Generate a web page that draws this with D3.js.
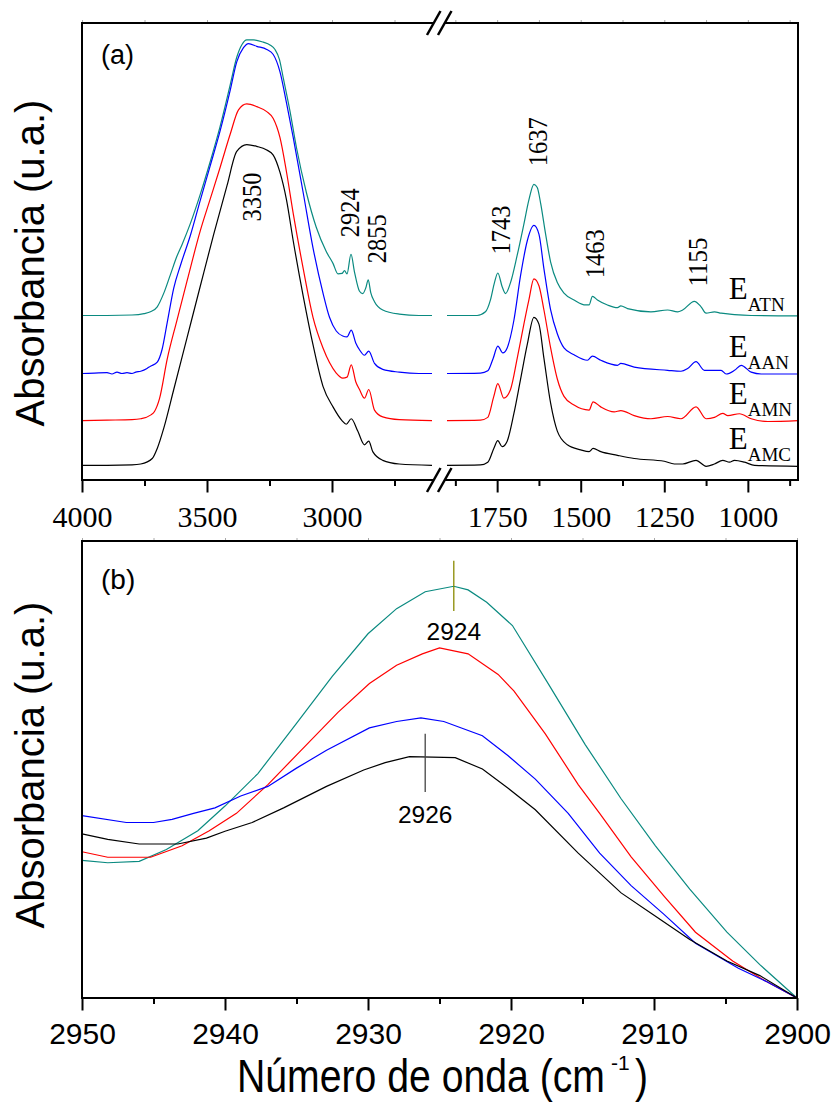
<!DOCTYPE html>
<meta charset="utf-8">
<style>
body { margin: 0; background: #fff; }
svg text.serif { font-family: "Liberation Serif", "Times New Roman", serif; fill: #000; }
svg text.sans { font-family: "Liberation Sans", Arial, sans-serif; fill: #000; }
.frame { fill: none; stroke: #000; stroke-width: 2px; }
.tick line { stroke: #000; stroke-width: 2px; }
.curve { fill: none; stroke-width: 1.2px; }
</style>
<body>
<div id="chart"></div>
<script src="https://cdn.jsdelivr.net/npm/d3@7"></script>
<script>

// samples, top-to-bottom in both panels
var names = ['ATN', 'AAN', 'AMN', 'AMC'];
var colors = ['#0a8a80', '#0000ff', '#ff0000', '#000000'];

// panel (a): [wavenumber, absorbance (a.u., offset)] -- 4000..2600 segment
var atnLeft = [[4000,.360],[3900,.360],[3800,.361],[3752,.364],[3726,.368],[3699,.379],[3672,.410],[3646,.450],[3620,.490],[3600,.515],[3566,.562],[3527,.625],[3487,.697],[3447,.775],[3407,.865],[3381,.925],[3360,.953],[3341,.963],[3315,.963],[3275,.958],[3248,.952],[3228,.942],[3210,.920],[3195,.880],[3169,.810],[3142,.727],[3102,.628],[3063,.553],[3023,.500],[2996,.474],[2976,.451],[2960,.452],[2950,.458],[2940,.451],[2924,.494],[2910,.455],[2890,.413],[2877,.408],[2865,.420],[2855,.438],[2845,.410],[2830,.390],[2797,.372],[2731,.363],[2652,.360],[2600,.360]];
var aanLeft = [[4000,.233],[3950,.234],[3900,.235],[3880,.232],[3860,.236],[3840,.233],[3820,.235],[3800,.233],[3785,.236],[3765,.238],[3740,.244],[3726,.249],[3699,.258],[3680,.285],[3659,.345],[3633,.420],[3606,.470],[3566,.536],[3527,.612],[3487,.688],[3447,.765],[3407,.853],[3381,.915],[3354,.946],[3334,.955],[3301,.949],[3261,.942],[3235,.931],[3208,.893],[3182,.825],[3155,.749],[3115,.628],[3076,.508],[3036,.409],[3010,.356],[2983,.326],[2957,.315],[2940,.313],[2923,.328],[2905,.300],[2890,.285],[2870,.273],[2853,.282],[2830,.255],[2797,.242],[2731,.236],[2652,.233],[2600,.233]];
var amnLeft = [[4000,.130],[3900,.131],[3800,.132],[3765,.134],[3726,.142],[3710,.150],[3690,.178],[3659,.265],[3620,.350],[3580,.435],[3527,.545],[3487,.615],[3447,.685],[3407,.757],[3374,.810],[3341,.823],[3301,.817],[3261,.806],[3235,.791],[3208,.749],[3182,.674],[3155,.583],[3115,.462],[3076,.356],[3036,.289],[3010,.257],[2983,.234],[2957,.223],[2940,.225],[2923,.252],[2905,.215],[2890,.198],[2870,.179],[2853,.198],[2830,.153],[2797,.138],[2731,.132],[2600,.130]];
var amcLeft = [[4000,.032],[3900,.032],[3800,.033],[3765,.035],[3719,.047],[3699,.069],[3672,.115],[3633,.198],[3580,.311],[3527,.424],[3473,.538],[3420,.644],[3381,.719],[3341,.734],[3301,.730],[3261,.722],[3235,.711],[3208,.673],[3182,.613],[3155,.523],[3115,.402],[3076,.296],[3036,.205],[2996,.160],[2960,.130],[2943,.122],[2923,.134],[2897,.107],[2870,.077],[2853,.085],[2837,.062],[2797,.043],[2731,.035],[2600,.032]];

// panel (a): 1900..850 segment
var atnRight = [[1900,.360],[1810,.360],[1785,.368],[1770,.394],[1758,.432],[1748,.453],[1735,.423],[1725,.408],[1710,.432],[1690,.492],[1670,.560],[1655,.613],[1640,.647],[1630,.640],[1620,.606],[1605,.538],[1590,.477],[1570,.432],[1550,.409],[1520,.394],[1485,.383],[1475,.383],[1465,.402],[1450,.394],[1420,.383],[1390,.377],[1380,.381],[1360,.375],[1290,.368],[1240,.372],[1210,.368],[1195,.372],[1160,.391],[1140,.379],[1125,.365],[1100,.368],[1080,.365],[1040,.362],[990,.360],[850,.359]];
var aanRight = [[1900,.233],[1800,.234],[1778,.239],[1762,.266],[1748,.293],[1733,.278],[1720,.289],[1700,.349],[1680,.447],[1660,.523],[1640,.557],[1625,.538],[1610,.462],[1590,.372],[1570,.320],[1550,.289],[1520,.274],[1480,.262],[1465,.271],[1440,.262],[1390,.251],[1380,.255],[1340,.247],[1240,.240],[1200,.238],[1180,.244],[1155,.259],[1130,.240],[1080,.240],[1065,.232],[1040,.240],[1020,.251],[990,.236],[960,.232],[850,.232]];
var amnRight = [[1900,.130],[1800,.131],[1778,.137],[1760,.183],[1748,.211],[1730,.179],[1710,.198],[1690,.266],[1670,.341],[1655,.394],[1640,.440],[1625,.425],[1610,.372],[1590,.289],[1570,.221],[1550,.183],[1520,.164],[1475,.153],[1463,.171],[1440,.160],[1400,.149],[1380,.152],[1340,.141],[1290,.134],[1240,.139],[1200,.134],[1155,.160],[1125,.134],[1100,.137],[1075,.146],[1060,.141],[1025,.145],[990,.134],[940,.128],[850,.130]];
var amcRight = [[1900,.032],[1800,.033],[1778,.039],[1760,.069],[1748,.086],[1735,.073],[1720,.085],[1700,.145],[1680,.220],[1660,.296],[1640,.356],[1625,.341],[1610,.266],[1590,.168],[1570,.107],[1540,.077],[1500,.066],[1475,.062],[1463,.069],[1440,.062],[1390,.054],[1340,.047],[1250,.041],[1220,.035],[1195,.035],[1155,.043],[1125,.030],[1100,.035],[1075,.043],[1055,.039],[1040,.043],[1010,.039],[980,.032],[850,.030]];

// panel (b): zoom on the 2924 band
var atnZoom = [[2950,.301],[2948.2,.296],[2946,.299],[2944.1,.325],[2941.9,.366],[2940,.420],[2937.7,.491],[2935,.601],[2932.5,.704],[2930,.797],[2928,.852],[2926,.889],[2924,.901],[2923,.893],[2921.7,.866],[2919.9,.815],[2917.4,.688],[2914.8,.554],[2912.3,.436],[2909.9,.333],[2907.5,.238],[2904.9,.144],[2902.6,.073],[2900,0]];
var amnZoom = [[2950,.320],[2948.2,.308],[2945.2,.308],[2943,.333],[2941.1,.366],[2939.2,.404],[2937,.467],[2934.8,.538],[2932.1,.625],[2929.9,.688],[2928,.728],[2926.2,.753],[2925,.766],[2923,.753],[2920.9,.708],[2919.8,.672],[2917.6,.578],[2915.3,.467],[2913.8,.404],[2911.6,.309],[2909.3,.223],[2907.1,.144],[2904.5,.081],[2902.2,.037],[2900,0]];
var aanZoom = [[2950,.399],[2946.9,.384],[2945,.384],[2943.7,.391],[2942.2,.404],[2940.7,.416],[2938.9,.442],[2937,.463],[2935,.503],[2932.9,.542],[2929.9,.591],[2928,.605],[2926.3,.613],[2924.7,.605],[2922,.574],[2920.2,.530],[2918.3,.479],[2916,.404],[2913.8,.317],[2911.6,.246],[2909.3,.183],[2907.1,.120],[2904.1,.065],[2902.2,.037],[2900,0]];
var amcZoom = [[2950,.359],[2948.2,.347],[2946,.337],[2943.3,.337],[2941.3,.350],[2940,.365],[2938.1,.384],[2935.9,.416],[2932.9,.463],[2930.3,.499],[2928.8,.515],[2927.1,.528],[2923.9,.526],[2922,.501],[2920.2,.459],[2918.3,.412],[2915.3,.317],[2912.3,.230],[2910.1,.183],[2907.5,.128],[2904.9,.081],[2902.6,.049],[2900,0]];

// tick values
var leftMajor = [4000, 3500, 3000], leftMinor = [3750, 3250, 2750];
var rightMajor = [1750, 1500, 1250, 1000], rightMinor = [1875, 1625, 1375, 1125, 875];
var zoomMajor = [2950, 2940, 2930, 2920, 2910, 2900], zoomMinor = [2945, 2935, 2925, 2915, 2905];

// band labels of panel (a): text, and where the label centre sits
var peakText = ['3350', '2924', '2855', '1743', '1637', '1463', '1155'];
var peakWn = [3321, 2929, 2824, 1739.5, 1630, 1460, 1151];
var peakV = [.619, .585, .528, .547, .740, .495, .477];

// maxima marked in panel (b)
var markWn = [2924, 2926];
var markTop = [.957, .578], markBottom = [.847, .451], markLabelV = [.783, .383];
var markColors = ['#8a8a00', '#444444'];

var svg = d3.select('#chart').append('svg')
  .attr('width', 839)
  .attr('height', 1105);

// ---------- panel (a) ----------
var xL = d3.scaleLinear().domain([4000, 2600]).range([82, 432]);
var xR = d3.scaleLinear().domain([1900, 850]).range([447, 798]);
var yA = d3.scaleLinear().domain([0, 1]).range([480, 23]);

var lineL = d3.line().x(function (d) { return xL(d[0]); }).y(function (d) { return yA(d[1]); }).curve(d3.curveMonotoneX);
var lineR = d3.line().x(function (d) { return xR(d[0]); }).y(function (d) { return yA(d[1]); }).curve(d3.curveMonotoneX);

var leftSets = [atnLeft, aanLeft, amnLeft, amcLeft];
var rightSets = [atnRight, aanRight, amnRight, amcRight];

var gA = svg.append('g');
gA.selectAll('path.l').data(leftSets).enter().append('path')
  .attr('class', 'curve l')
  .attr('stroke', function (d, i) { return colors[i]; })
  .attr('d', lineL);
gA.selectAll('path.r').data(rightSets).enter().append('path')
  .attr('class', 'curve r')
  .attr('stroke', function (d, i) { return colors[i]; })
  .attr('d', lineR);

function axisPair(scale, major, minor, y, g, font) {
  g.append('g').attr('transform', 'translate(0,' + y + ')')
    .call(d3.axisBottom(scale).tickValues(major).tickSize(12.5).tickPadding(13).tickFormat(d3.format('d')))
    .call(function (s) {
      s.select('.domain').remove();
      s.selectAll('text').attr('class', font).style('font-size', '30px');
    });
  g.append('g').attr('transform', 'translate(0,' + y + ')')
    .call(d3.axisBottom(scale).tickValues(minor).tickSize(6).tickFormat(''))
    .call(function (s) { s.select('.domain').remove(); });
}
function faintTop(scale, values, y, g) {
  g.append('g').attr('transform', 'translate(0,' + y + ')')
    .call(d3.axisTop(scale).tickValues(values).tickSize(3).tickFormat(''))
    .call(function (s) {
      s.select('.domain').remove();
      s.selectAll('line').style('stroke', '#aaa').style('stroke-width', '1px');
    });
}

axisPair(xL, leftMajor, leftMinor, 480, gA, 'serif');
axisPair(xR, rightMajor, rightMinor, 480, gA, 'serif');
faintTop(xL, leftMajor.concat(leftMinor), 23, gA);
faintTop(xR, rightMajor.concat(rightMinor), 23, gA);

gA.append('rect').attr('class', 'frame')
  .attr('x', 82).attr('y', 23).attr('width', 798 - 82).attr('height', 480 - 23);
gA.selectAll('.gap').data([23, 480]).enter().append('rect')
  .attr('x', 434).attr('y', function (d) { return d - 3; })
  .attr('width', 10).attr('height', 6).attr('fill', '#fff');
[23, 480].forEach(function (y) {
  [427, 438].forEach(function (x0) {
    gA.append('line')
      .attr('x1', x0).attr('y1', y + 12).attr('x2', x0 + 13.5).attr('y2', y - 12)
      .attr('stroke', '#000').attr('stroke-width', 2.5);
  });
});

// band labels
gA.selectAll('text.peak').data(peakText).enter().append('text')
  .attr('class', 'serif peak')
  .attr('text-anchor', 'middle')
  .attr('textLength', 49)
  .attr('lengthAdjust', 'spacingAndGlyphs')
  .style('font-size', '28px')
  .attr('transform', function (d, i) {
    var x = peakWn[i] > 2000 ? xL(peakWn[i]) : xR(peakWn[i]);
    return 'translate(' + (x + 9.5) + ',' + yA(peakV[i]) + ') rotate(-90)';
  })
  .text(function (d) { return d; });

// sample labels at the right end of each trace
var sl = gA.selectAll('text.sample').data(rightSets).enter().append('text')
  .attr('class', 'serif sample')
  .attr('x', xR(1057))
  .attr('y', function (d) { return yA(d[d.length - 1][1]) - 17; })
  .style('font-size', '31px');
sl.append('tspan').text('E');
sl.append('tspan').attr('dy', 12).style('font-size', '19px')
  .text(function (d, i) { return names[i]; });

gA.append('text').attr('class', 'sans')
  .attr('x', 101).attr('y', 64)
  .style('font-size', '27px').text('(a)');

gA.append('text').attr('class', 'sans')
  .attr('text-anchor', 'middle')
  .attr('transform', 'translate(44,263) rotate(-90)')
  .style('font-size', '40px')
  .text('Absorbancia (u.a.)');

// ---------- panel (b) ----------
var xB = d3.scaleLinear().domain([2950, 2900]).range([82, 797]);
var yB = d3.scaleLinear().domain([0, 1]).range([998, 541]);
var lineB = d3.line().x(function (d) { return xB(d[0]); }).y(function (d) { return yB(d[1]); });

var gB = svg.append('g');
gB.selectAll('path.z').data([atnZoom, amnZoom, aanZoom, amcZoom]).enter().append('path')
  .attr('class', 'curve z')
  .attr('stroke', function (d, i) { return [colors[0], colors[2], colors[1], colors[3]][i]; })
  .attr('d', lineB);

gB.append('g').attr('transform', 'translate(0,998)')
  .call(d3.axisBottom(xB).tickValues(zoomMajor).tickSize(12.5).tickPadding(12).tickFormat(d3.format('d')))
  .call(function (s) {
    s.select('.domain').remove();
    s.selectAll('text').attr('class', 'sans').style('font-size', '30px');
  });
gB.append('g').attr('transform', 'translate(0,998)')
  .call(d3.axisBottom(xB).tickValues(zoomMinor).tickSize(6).tickFormat(''))
  .call(function (s) { s.select('.domain').remove(); });
faintTop(xB, zoomMajor.concat(zoomMinor), 541, gB);

gB.append('rect').attr('class', 'frame')
  .attr('x', 82).attr('y', 541).attr('width', 797 - 82).attr('height', 998 - 541);

gB.selectAll('line.mark').data(markWn).enter().append('line')
  .attr('class', 'mark')
  .attr('x1', function (d) { return xB(d); }).attr('x2', function (d) { return xB(d); })
  .attr('y1', function (d, i) { return yB(markTop[i]); })
  .attr('y2', function (d, i) { return yB(markBottom[i]); })
  .attr('stroke', function (d, i) { return markColors[i]; })
  .attr('stroke-width', 1.3);
gB.selectAll('text.mark').data(markWn).enter().append('text')
  .attr('class', 'sans mark')
  .attr('text-anchor', 'middle')
  .attr('x', function (d) { return xB(d); })
  .attr('y', function (d, i) { return yB(markLabelV[i]); })
  .style('font-size', '24.5px')
  .text(function (d) { return d; });

gB.append('text').attr('class', 'sans')
  .attr('x', 101).attr('y', 589)
  .style('font-size', '28px').text('(b)');

gB.append('text').attr('class', 'sans')
  .attr('text-anchor', 'middle')
  .attr('transform', 'translate(44,765) rotate(-90)')
  .style('font-size', '40px')
  .text('Absorbancia (u.a.)');

// axis title: main part squeezed to the reference width, superscript set apart
gB.append('text').attr('class', 'sans')
  .attr('x', 237).attr('y', 1092)
  .attr('textLength', 368).attr('lengthAdjust', 'spacingAndGlyphs')
  .style('font-size', '46px')
  .text('Número de onda (cm');
gB.append('text').attr('class', 'sans')
  .attr('x', 611).attr('y', 1070)
  .style('font-size', '21px')
  .text('-1');
gB.append('text').attr('class', 'sans')
  .attr('x', 635).attr('y', 1092)
  .attr('textLength', 13).attr('lengthAdjust', 'spacingAndGlyphs')
  .style('font-size', '46px')
  .text(')');

</script>
